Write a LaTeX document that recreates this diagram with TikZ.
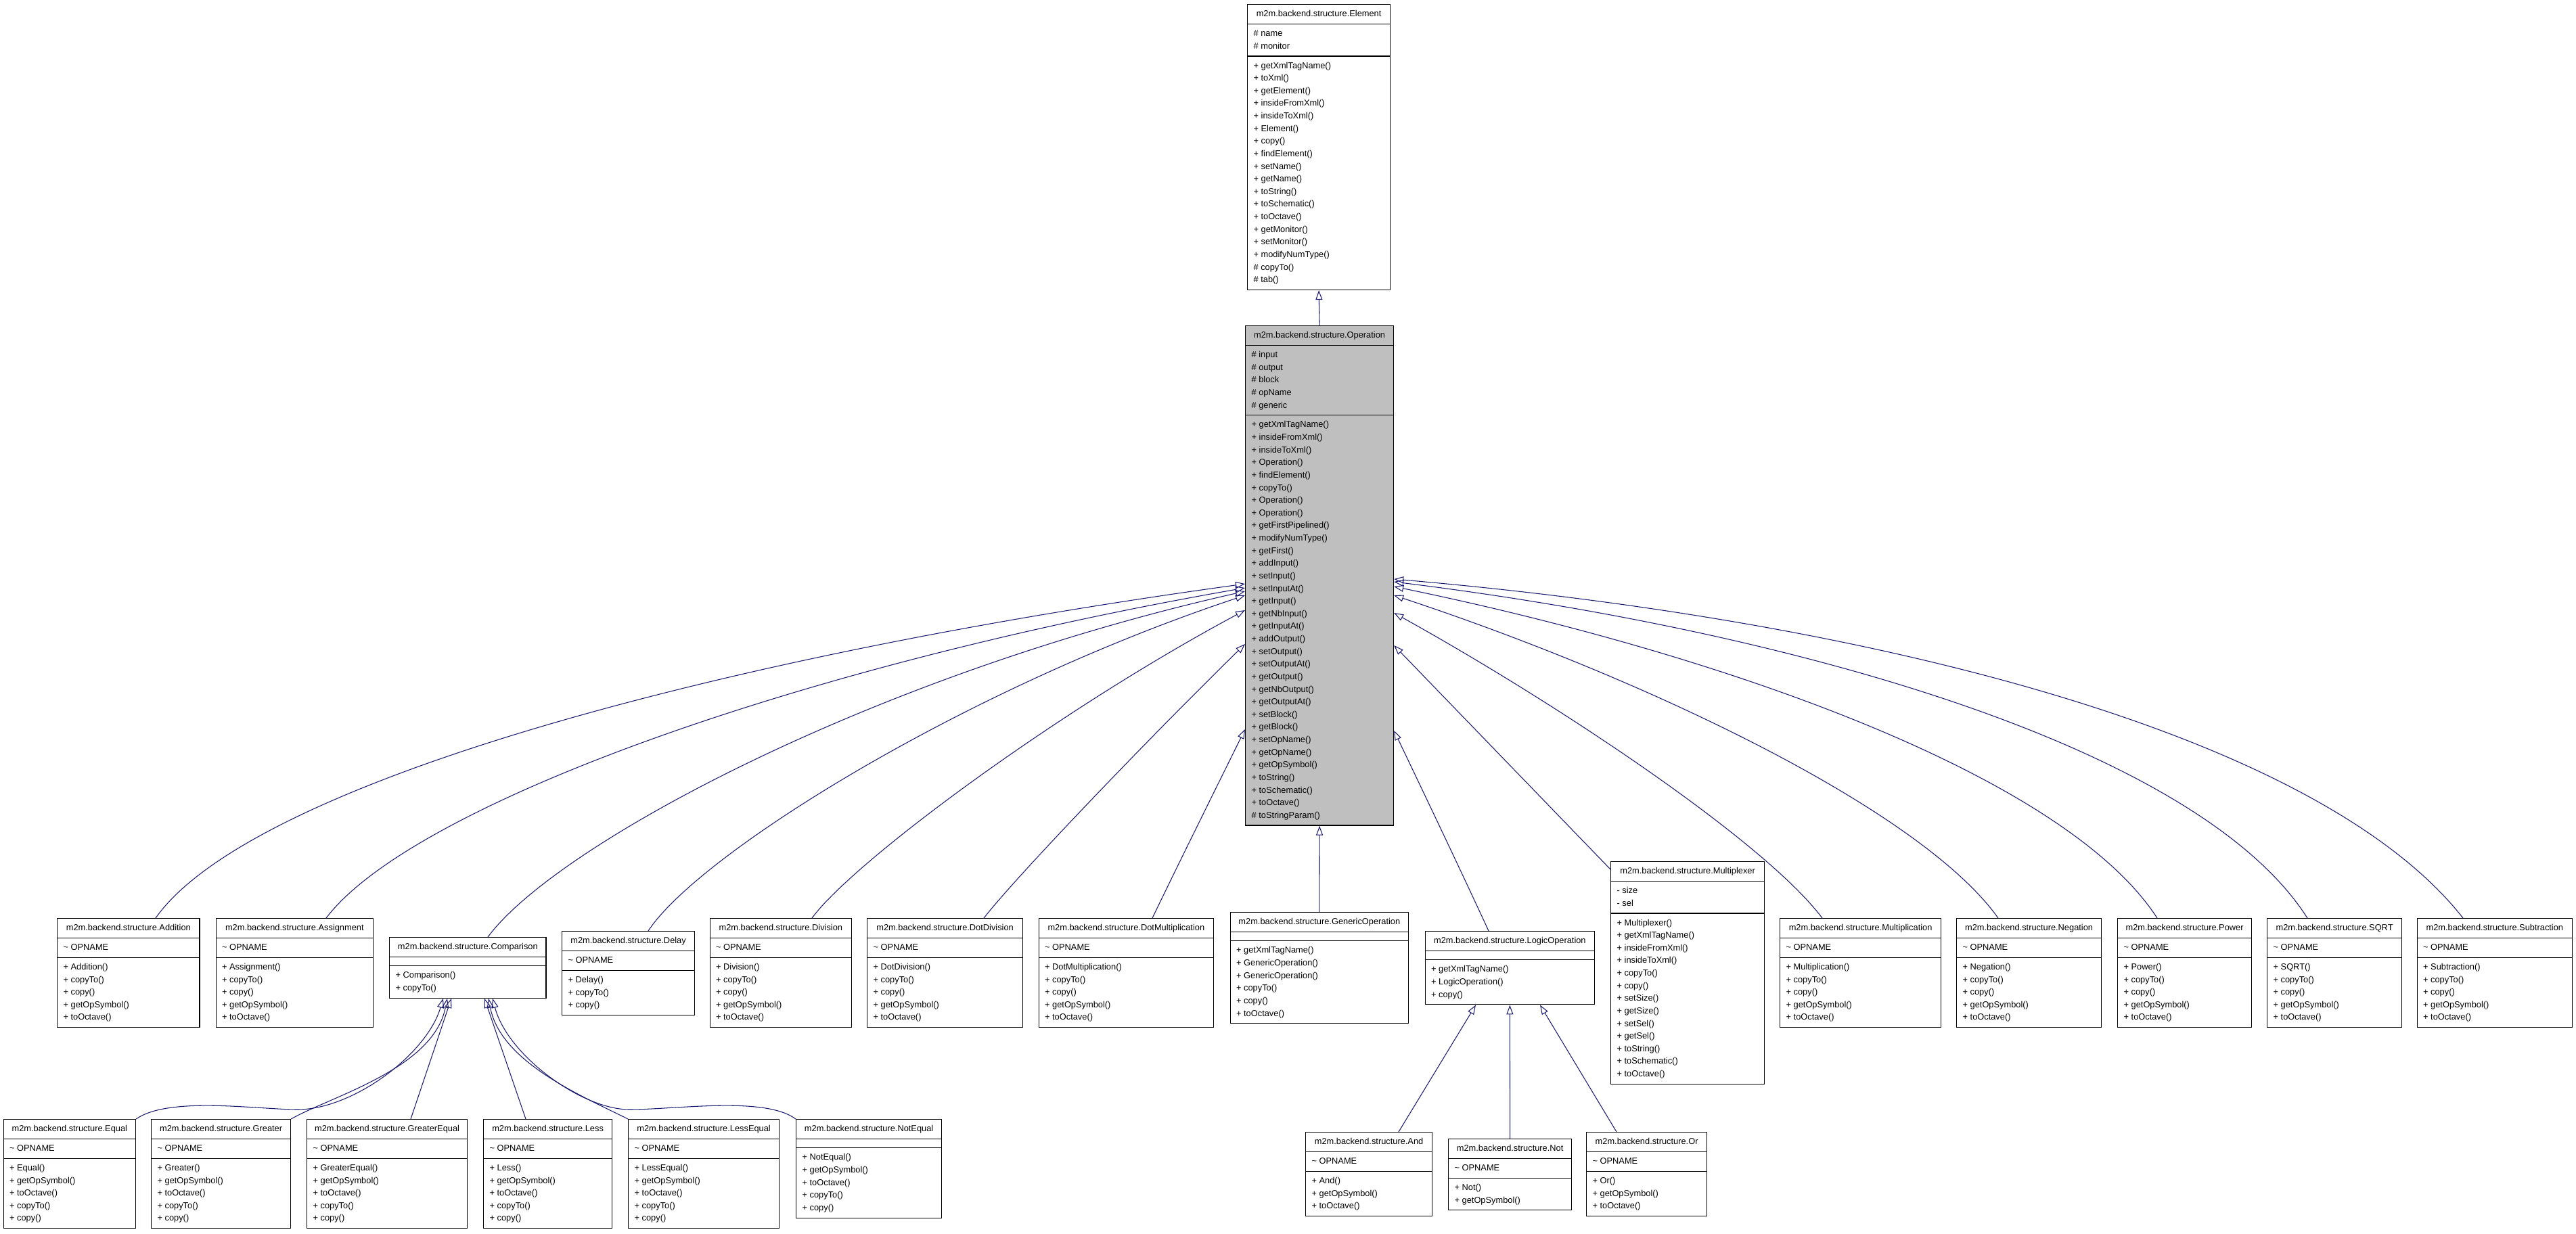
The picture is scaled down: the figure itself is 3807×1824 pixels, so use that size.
\documentclass[tikz,border=0pt]{standalone}
\usepackage{fontspec}
\setmainfont{Liberation Sans}
\usetikzlibrary{shapes.multipart, arrows.meta}
\usepackage{xcolor}

\definecolor{linkblue}{HTML}{191970}
\definecolor{opgray}{HTML}{BFBFBF}
\newcommand{\members}[1]{\begin{tabular}{@{}l@{}}#1\end{tabular}}
\newcommand{\opn}{\textasciitilde{} OPNAME}

\begin{document}
\begin{tikzpicture}[x=0.02cm, y=-0.02cm,
      cls/.style={draw, rectangle split, rectangle split parts=3,
                  rectangle split part align={center,left,left},
                  anchor=north west, inner xsep=0.18cm, inner ysep=0.09cm,
                  line width=0.7pt, fill=white,
                  font=\fontsize{7.3}{10.6}\selectfont},
      clsfocus/.style={cls, fill=opgray},
      inh/.style={draw=linkblue, line width=0.6pt,
                  -{Triangle[open, length=0.28cm, width=0.2cm]}}
    ]
    \useasboundingbox (0,0) rectangle (3807,1824);

    % Basisklassen
    \node[cls, minimum width=4.22cm] (element) at (1843,6)
      {\members{m2m.backend.structure.Element}
       \nodepart{two}\members{\# name\\ \# monitor}
       \nodepart{three}\members{+ getXmlTagName()\\ + toXml()\\ + getElement()\\
         + insideFromXml()\\ + insideToXml()\\ + Element()\\ + copy()\\
         + findElement()\\ + setName()\\ + getName()\\ + toString()\\
         + toSchematic()\\ + toOctave()\\ + getMonitor()\\ + setMonitor()\\
         + modifyNumType()\\ \# copyTo()\\ \# tab()}};
    \node[clsfocus, minimum width=4.38cm] (operation) at (1840,481)
      {\members{m2m.backend.structure.Operation}
       \nodepart{two}\members{\# input\\ \# output\\ \# block\\ \# opName\\ \# generic}
       \nodepart{three}\members{+ getXmlTagName()\\ + insideFromXml()\\
         + insideToXml()\\ + Operation()\\ + findElement()\\ + copyTo()\\
         + Operation()\\ + Operation()\\ + getFirstPipelined()\\
         + modifyNumType()\\ + getFirst()\\ + addInput()\\ + setInput()\\
         + setInputAt()\\ + getInput()\\ + getNbInput()\\ + getInputAt()\\
         + addOutput()\\ + setOutput()\\ + setOutputAt()\\ + getOutput()\\
         + getNbOutput()\\ + getOutputAt()\\ + setBlock()\\ + getBlock()\\
         + setOpName()\\ + getOpName()\\ + getOpSymbol()\\ + toString()\\
         + toSchematic()\\ + toOctave()\\ \# toStringParam()}};

    % Operationen
    \node[cls, minimum width=4.21cm] (addition) at (84,1357)
      {\members{m2m.backend.structure.Addition}
       \nodepart{two}\members{\opn}
       \nodepart{three}\members{+ Addition()\\ + copyTo()\\ + copy()\\ + getOpSymbol()\\ + toOctave()}};
    \node[cls, minimum width=4.65cm] (assignment) at (318.5,1357)
      {\members{m2m.backend.structure.Assignment}
       \nodepart{two}\members{\opn}
       \nodepart{three}\members{+ Assignment()\\ + copyTo()\\ + copy()\\ + getOpSymbol()\\ + toOctave()}};
    \node[cls, minimum width=4.63cm] (comparison) at (575,1385)
      {\members{m2m.backend.structure.Comparison}
       \nodepart{two}\members{}
       \nodepart{three}\members{+ Comparison()\\ + copyTo()}};
    \node[cls, minimum width=3.92cm] (delay) at (830,1376)
      {\members{m2m.backend.structure.Delay}
       \nodepart{two}\members{\opn}
       \nodepart{three}\members{+ Delay()\\ + copyTo()\\ + copy()}};
    \node[cls, minimum width=4.19cm] (division) at (1048.5,1357)
      {\members{m2m.backend.structure.Division}
       \nodepart{two}\members{\opn}
       \nodepart{three}\members{+ Division()\\ + copyTo()\\ + copy()\\ + getOpSymbol()\\ + toOctave()}};
    \node[cls, minimum width=4.60cm] (dotdivision) at (1281,1357)
      {\members{m2m.backend.structure.DotDivision}
       \nodepart{two}\members{\opn}
       \nodepart{three}\members{+ DotDivision()\\ + copyTo()\\ + copy()\\ + getOpSymbol()\\ + toOctave()}};
    \node[cls, minimum width=5.17cm] (dotmult) at (1534.5,1357)
      {\members{m2m.backend.structure.DotMultiplication}
       \nodepart{two}\members{\opn}
       \nodepart{three}\members{+ DotMultiplication()\\ + copyTo()\\ + copy()\\ + getOpSymbol()\\ + toOctave()}};
    \node[cls, minimum width=5.27cm] (genericop) at (1817.5,1348)
      {\members{m2m.backend.structure.GenericOperation}
       \nodepart{two}\members{}
       \nodepart{three}\members{+ getXmlTagName()\\ + GenericOperation()\\
         + GenericOperation()\\ + copyTo()\\ + copy()\\ + toOctave()}};
    \node[cls, minimum width=5.01cm] (logicop) at (2105.5,1376)
      {\members{m2m.backend.structure.LogicOperation}
       \nodepart{two}\members{}
       \nodepart{three}\members{+ getXmlTagName()\\ + LogicOperation()\\ + copy()}};
    \node[cls, minimum width=4.54cm] (multiplexer) at (2380,1273)
      {\members{m2m.backend.structure.Multiplexer}
       \nodepart{two}\members{- size\\ - sel}
       \nodepart{three}\members{+ Multiplexer()\\ + getXmlTagName()\\
         + insideFromXml()\\ + insideToXml()\\ + copyTo()\\ + copy()\\
         + setSize()\\ + getSize()\\ + setSel()\\ + getSel()\\ + toString()\\
         + toSchematic()\\ + toOctave()}};
    \node[cls, minimum width=4.76cm] (multiplication) at (2630,1357)
      {\members{m2m.backend.structure.Multiplication}
       \nodepart{two}\members{\opn}
       \nodepart{three}\members{+ Multiplication()\\ + copyTo()\\ + copy()\\ + getOpSymbol()\\ + toOctave()}};
    \node[cls, minimum width=4.28cm] (negation) at (2891,1357)
      {\members{m2m.backend.structure.Negation}
       \nodepart{two}\members{\opn}
       \nodepart{three}\members{+ Negation()\\ + copyTo()\\ + copy()\\ + getOpSymbol()\\ + toOctave()}};
    \node[cls, minimum width=3.96cm] (power) at (3129,1357)
      {\members{m2m.backend.structure.Power}
       \nodepart{two}\members{\opn}
       \nodepart{three}\members{+ Power()\\ + copyTo()\\ + copy()\\ + getOpSymbol()\\ + toOctave()}};
    \node[cls, minimum width=3.98cm] (sqrt) at (3350,1357)
      {\members{m2m.backend.structure.SQRT}
       \nodepart{two}\members{\opn}
       \nodepart{three}\members{+ SQRT()\\ + copyTo()\\ + copy()\\ + getOpSymbol()\\ + toOctave()}};
    \node[cls, minimum width=4.59cm] (subtraction) at (3571.5,1357)
      {\members{m2m.backend.structure.Subtraction}
       \nodepart{two}\members{\opn}
       \nodepart{three}\members{+ Subtraction()\\ + copyTo()\\ + copy()\\ + getOpSymbol()\\ + toOctave()}};

    % Vergleiche
    \node[cls, minimum width=3.91cm] (equal) at (4.5,1654)
      {\members{m2m.backend.structure.Equal}
       \nodepart{two}\members{\opn}
       \nodepart{three}\members{+ Equal()\\ + getOpSymbol()\\ + toOctave()\\ + copyTo()\\ + copy()}};
    \node[cls, minimum width=4.12cm] (greater) at (223,1654)
      {\members{m2m.backend.structure.Greater}
       \nodepart{two}\members{\opn}
       \nodepart{three}\members{+ Greater()\\ + getOpSymbol()\\ + toOctave()\\ + copyTo()\\ + copy()}};
    \node[cls, minimum width=4.74cm] (greaterequal) at (453,1654)
      {\members{m2m.backend.structure.GreaterEqual}
       \nodepart{two}\members{\opn}
       \nodepart{three}\members{+ GreaterEqual()\\ + getOpSymbol()\\ + toOctave()\\ + copyTo()\\ + copy()}};
    \node[cls, minimum width=3.80cm] (less) at (714,1654)
      {\members{m2m.backend.structure.Less}
       \nodepart{two}\members{\opn}
       \nodepart{three}\members{+ Less()\\ + getOpSymbol()\\ + toOctave()\\ + copyTo()\\ + copy()}};
    \node[cls, minimum width=4.46cm] (lessequal) at (928,1654)
      {\members{m2m.backend.structure.LessEqual}
       \nodepart{two}\members{\opn}
       \nodepart{three}\members{+ LessEqual()\\ + getOpSymbol()\\ + toOctave()\\ + copyTo()\\ + copy()}};
    \node[cls, minimum width=4.30cm] (notequal) at (1176,1654)
      {\members{m2m.backend.structure.NotEqual}
       \nodepart{two}\members{}
       \nodepart{three}\members{+ NotEqual()\\ + getOpSymbol()\\ + toOctave()\\ + copyTo()\\ + copy()}};

    % Logik
    \node[cls, minimum width=3.74cm] (opand) at (1929,1673)
      {\members{m2m.backend.structure.And}
       \nodepart{two}\members{\opn}
       \nodepart{three}\members{+ And()\\ + getOpSymbol()\\ + toOctave()}};
    \node[cls, minimum width=3.64cm] (opnot) at (2140,1683)
      {\members{m2m.backend.structure.Not}
       \nodepart{two}\members{\opn}
       \nodepart{three}\members{+ Not()\\ + getOpSymbol()}};
    \node[cls, minimum width=3.56cm] (opor) at (2344,1673)
      {\members{m2m.backend.structure.Or}
       \nodepart{two}\members{\opn}
       \nodepart{three}\members{+ Or()\\ + getOpSymbol()\\ + toOctave()}};

    % Vererbung
    \draw[inh] (operation.north) -- (element.south);
    \draw[inh] (genericop.north) -- (operation.south);

    \draw[inh] (addition.north -| 230,0) .. controls +(138,-196) and +(-793,109) .. (operation.west |- 0,863);
    \draw[inh] (assignment.north -| 482,0) .. controls +(124,-164) and +(-670,117) .. (operation.west |- 0,869);
    \draw[inh] (comparison.north -| 721,0) .. controls +(101,-137) and +(-547,123) .. (operation.west |- 0,874);
    \draw[inh] (delay.north -| 958,0) .. controls +(74,-113) and +(-418,139) .. (operation.west |- 0,880);
    \draw[inh] (division.north -| 1200,0) .. controls +(59,-81) and +(-282,151) .. (operation.west |- 0,902);
    \draw[inh] (dotdivision.north -| 1454,0) .. controls +(49,-63) and +(-136,133) .. (operation.west |- 0,952);
    \draw[inh] (dotmult.north -| 1703,0) .. controls +(39,-81) and +(-40,81) .. (operation.west |- 0,1078);

    \draw[inh] (logicop.north -| 2200,0) .. controls +(-42,-91) and +(43,90) .. (operation.east |- 0,1080);
    \draw[inh] (multiplexer.west |- 0,1285) -- (operation.east |- 0,954);
    \draw[inh] (multiplication.north -| 2693,0) .. controls +(-84,-112) and +(245,136) .. (operation.east |- 0,906);
    \draw[inh] (negation.north -| 2953,0) .. controls +(-113,-159) and +(375,124) .. (operation.east |- 0,880);
    \draw[inh] (power.north -| 3188,0) .. controls +(-136,-210) and +(490,101) .. (operation.east |- 0,867);
    \draw[inh] (sqrt.north -| 3410,0) .. controls +(-161,-253) and +(590,73) .. (operation.east |- 0,860);
    \draw[inh] (subtraction.north -| 3640,0) .. controls +(-216,-275) and +(697,60) .. (operation.east |- 0,856);

    \draw[inh] (equal.north east) .. controls (250,1620) and (380,1640) .. (440,1640)
      .. controls (520,1640) and (630,1560) .. (comparison.south -| 655,0);
    \draw[inh] (greater.north east) .. controls (490,1620) and (640,1580) .. (comparison.south -| 661,0);
    \draw[inh] (greaterequal.north -| 607,0) -- (comparison.south -| 667,0);
    \draw[inh] (less.north -| 777,0) -- (comparison.south -| 716,0);
    \draw[inh] (lessequal.north west) .. controls (860,1620) and (740,1570) .. (comparison.south -| 722,0);
    \draw[inh] (notequal.north west) .. controls (1130,1620) and (1000,1640) .. (930,1640)
      .. controls (860,1640) and (750,1560) .. (comparison.south -| 728,0);

    \draw[inh] (opand.north -| 2067,0) -- (logicop.south -| 2181,0);
    \draw[inh] (opnot.north) -- (logicop.south);
    \draw[inh] (opor.north -| 2389,0) -- (logicop.south -| 2276,0);
  \end{tikzpicture}
\end{document}
